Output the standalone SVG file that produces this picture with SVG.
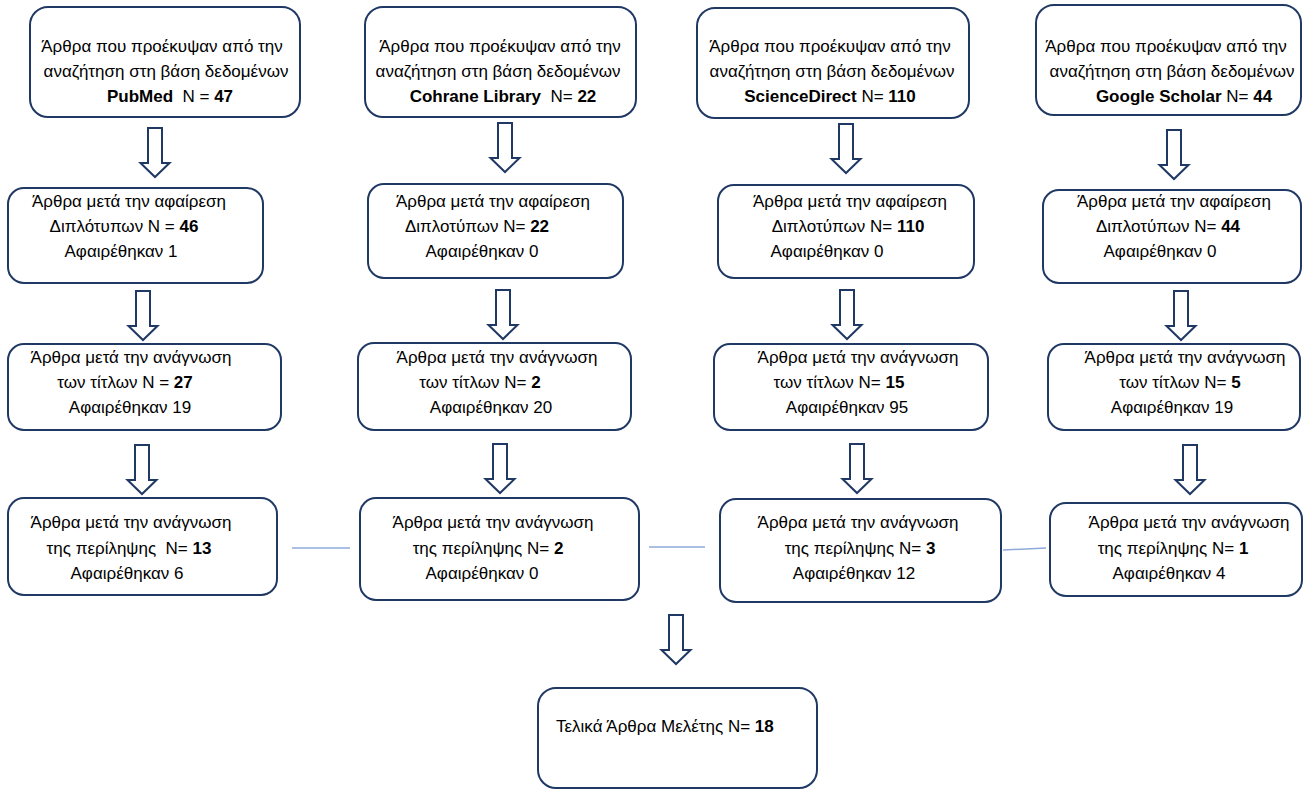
<svg xmlns="http://www.w3.org/2000/svg" width="1306" height="790" viewBox="0 0 1306 790">
<style>
.box{fill:#ffffff;stroke:#1f3864;stroke-width:2}
.t{font-family:"Liberation Sans",Arial,sans-serif;font-size:17px;fill:#000;text-anchor:middle;white-space:pre}
.b{font-weight:bold}
.arr{fill:#ffffff;stroke:#1f3864;stroke-width:2;stroke-linejoin:miter}
.ln{stroke:#8eaadb;stroke-width:1.5;fill:none}
</style>
<defs>
<path id="arrow" class="arr" d="M-7,0 H7 V35 H14.5 L0,49 L-14.5,35 H-7 Z"/>
</defs>
<rect width="1306" height="790" fill="#ffffff"/>

<g id="connectors">
<use href="#arrow" transform="translate(155,128)"/>
<use href="#arrow" transform="translate(505,123)"/>
<use href="#arrow" transform="translate(846,124)"/>
<use href="#arrow" transform="translate(1174,130)"/>
<use href="#arrow" transform="translate(143,291)"/>
<use href="#arrow" transform="translate(503,290)"/>
<use href="#arrow" transform="translate(847,290)"/>
<use href="#arrow" transform="translate(1181,291)"/>
<use href="#arrow" transform="translate(142,445)"/>
<use href="#arrow" transform="translate(500,444)"/>
<use href="#arrow" transform="translate(857,444)"/>
<use href="#arrow" transform="translate(1190,445)"/>
<use href="#arrow" transform="translate(676,615)"/>
<line class="ln" x1="292" y1="548" x2="350" y2="548"/>
<line class="ln" x1="649" y1="547" x2="705" y2="547"/>
<line class="ln" x1="1003" y1="550" x2="1046" y2="548"/>
</g>

<g id="pubmed">
<rect class="box" x="30" y="7" width="270" height="110" rx="18"/>
<text class="t" x="162" y="52">Άρθρα που προέκυψαν από την</text>
<text class="t" x="166" y="77">αναζήτηση στη βάση δεδομένων</text>
<text class="t" x="170" y="102"><tspan class="b">PubMed</tspan>  N = <tspan class="b">47</tspan></text>
</g>
<g id="cochrane">
<rect class="box" x="365" y="7" width="271" height="110" rx="18"/>
<text class="t" x="500" y="52">Άρθρα που προέκυψαν από την</text>
<text class="t" x="498" y="77">αναζήτηση στη βάση δεδομένων</text>
<text class="t" x="503" y="102"><tspan class="b">Cohrane Library</tspan>  N= <tspan class="b">22</tspan></text>
</g>
<g id="sciencedirect">
<rect class="box" x="697" y="8" width="272" height="110" rx="18"/>
<text class="t" x="830" y="52">Άρθρα που προέκυψαν από την</text>
<text class="t" x="832" y="77">αναζήτηση στη βάση δεδομένων</text>
<text class="t" x="830" y="102"><tspan class="b">ScienceDirect</tspan> N= <tspan class="b">110</tspan></text>
</g>
<g id="scholar">
<rect class="box" x="1036" y="5" width="265" height="110" rx="18"/>
<text class="t" x="1166" y="52">Άρθρα που προέκυψαν από την</text>
<text class="t" x="1172" y="77">αναζήτηση στη βάση δεδομένων</text>
<text class="t" x="1184" y="102"><tspan class="b">Google Scholar</tspan> N= <tspan class="b">44</tspan></text>
</g>

<g id="dup1">
<rect class="box" x="8" y="188" width="255" height="95" rx="16"/>
<text class="t" x="129" y="207">Άρθρα μετά την αφαίρεση</text>
<text class="t" x="124" y="232">Διπλότυπων N = <tspan class="b">46</tspan></text>
<text class="t" x="121" y="257">Αφαιρέθηκαν 1</text>
</g>
<g id="dup2">
<rect class="box" x="368" y="184" width="255" height="94" rx="16"/>
<text class="t" x="493" y="207">Άρθρα μετά την αφαίρεση</text>
<text class="t" x="477" y="232">Διπλοτύπων N= <tspan class="b">22</tspan></text>
<text class="t" x="482" y="257">Αφαιρέθηκαν 0</text>
</g>
<g id="dup3">
<rect class="box" x="718" y="185" width="256" height="93" rx="16"/>
<text class="t" x="850" y="207">Άρθρα μετά την αφαίρεση</text>
<text class="t" x="848" y="232">Διπλοτύπων N= <tspan class="b">110</tspan></text>
<text class="t" x="827" y="257">Αφαιρέθηκαν 0</text>
</g>
<g id="dup4">
<rect class="box" x="1043" y="190" width="258" height="93" rx="16"/>
<text class="t" x="1174" y="207">Άρθρα μετά την αφαίρεση</text>
<text class="t" x="1168" y="232">Διπλοτύπων N= <tspan class="b">44</tspan></text>
<text class="t" x="1160" y="257">Αφαιρέθηκαν 0</text>
</g>

<g id="titles1">
<rect class="box" x="8" y="344" width="273" height="86" rx="16"/>
<text class="t" x="131" y="363">Άρθρα μετά την ανάγνωση</text>
<text class="t" x="125" y="388">των τίτλων N = <tspan class="b">27</tspan></text>
<text class="t" x="130" y="413">Αφαιρέθηκαν 19</text>
</g>
<g id="titles2">
<rect class="box" x="358" y="343" width="273" height="87" rx="16"/>
<text class="t" x="497" y="363">Άρθρα μετά την ανάγνωση</text>
<text class="t" x="480" y="388">των τίτλων N= <tspan class="b">2</tspan></text>
<text class="t" x="491" y="413">Αφαιρέθηκαν 20</text>
</g>
<g id="titles3">
<rect class="box" x="714" y="344" width="274" height="86" rx="16"/>
<text class="t" x="858" y="363">Άρθρα μετά την ανάγνωση</text>
<text class="t" x="839" y="388">των τίτλων N= <tspan class="b">15</tspan></text>
<text class="t" x="847" y="413">Αφαιρέθηκαν 95</text>
</g>
<g id="titles4">
<rect class="box" x="1048" y="344" width="252" height="86" rx="16"/>
<text class="t" x="1185" y="363">Άρθρα μετά την ανάγνωση</text>
<text class="t" x="1180" y="388">των τίτλων N= <tspan class="b">5</tspan></text>
<text class="t" x="1172" y="413">Αφαιρέθηκαν 19</text>
</g>

<g id="abstract1">
<rect class="box" x="8" y="498" width="269" height="97" rx="16"/>
<text class="t" x="131" y="528">Άρθρα μετά την ανάγνωση</text>
<text class="t" x="129" y="554">της περίληψης  N= <tspan class="b">13</tspan></text>
<text class="t" x="127" y="579">Αφαιρέθηκαν 6</text>
</g>
<g id="abstract2">
<rect class="box" x="360" y="498" width="279" height="102" rx="16"/>
<text class="t" x="493" y="528">Άρθρα μετά την ανάγνωση</text>
<text class="t" x="488" y="554">της περίληψης N= <tspan class="b">2</tspan></text>
<text class="t" x="482" y="579">Αφαιρέθηκαν 0</text>
</g>
<g id="abstract3">
<rect class="box" x="720" y="499" width="281" height="103" rx="16"/>
<text class="t" x="858" y="528">Άρθρα μετά την ανάγνωση</text>
<text class="t" x="860" y="554">της περίληψης N= <tspan class="b">3</tspan></text>
<text class="t" x="854" y="579">Αφαιρέθηκαν 12</text>
</g>
<g id="abstract4">
<rect class="box" x="1050" y="503" width="252" height="93" rx="16"/>
<text class="t" x="1189" y="528">Άρθρα μετά την ανάγνωση</text>
<text class="t" x="1173" y="554">της περίληψης N= <tspan class="b">1</tspan></text>
<text class="t" x="1169" y="579">Αφαιρέθηκαν 4</text>
</g>

<g id="final">
<rect class="box" x="538" y="688" width="279" height="100" rx="18"/>
<text class="t" x="556" y="732" style="text-anchor:start">Τελικά Άρθρα Μελέτης N= <tspan class="b">18</tspan></text>
</g>
</svg>
